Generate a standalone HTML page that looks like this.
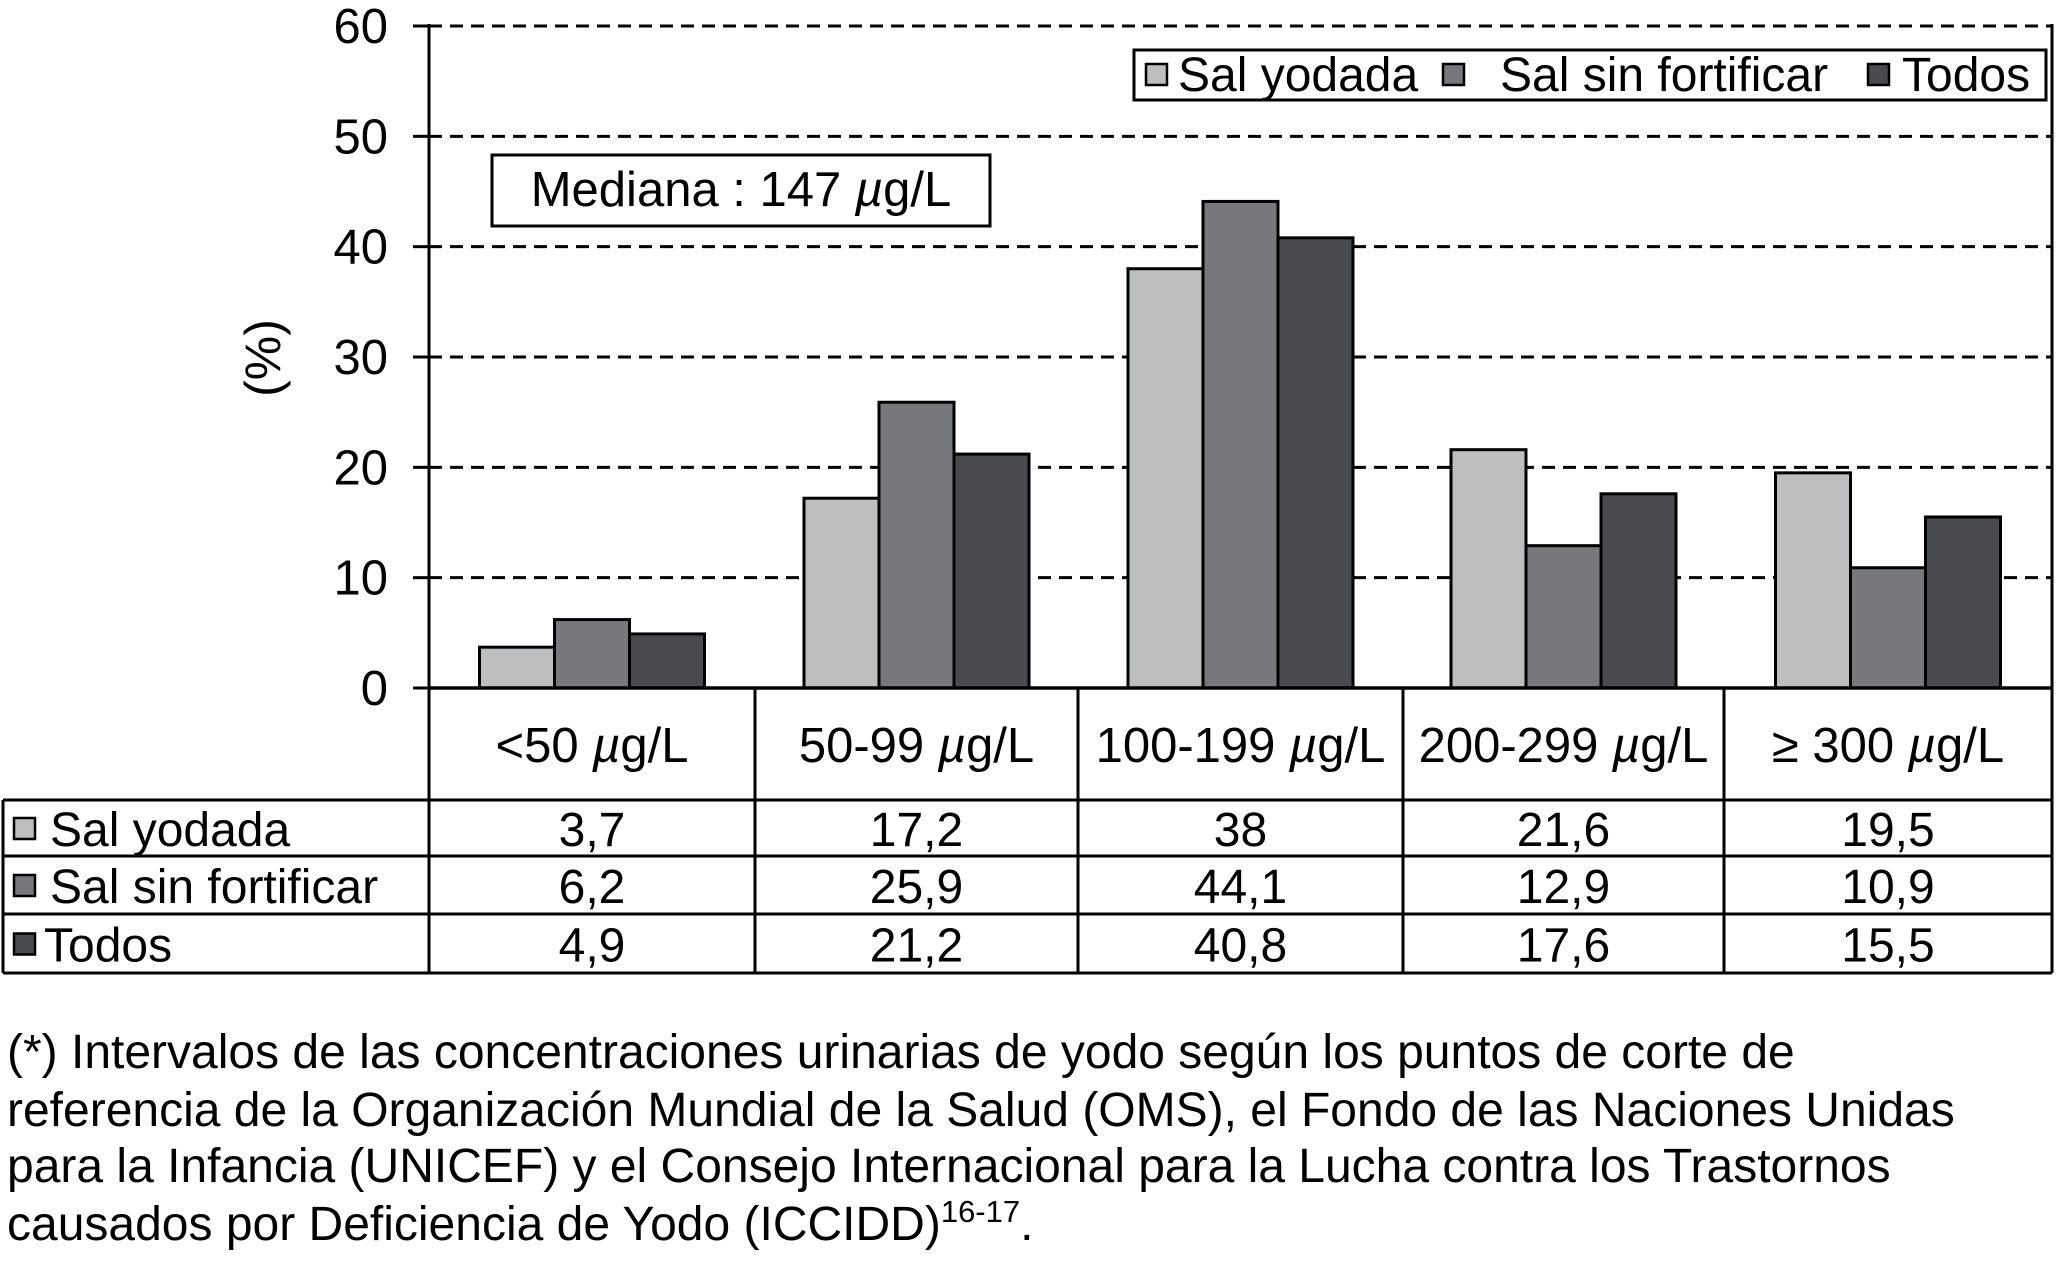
<!DOCTYPE html>
<html><head><meta charset="utf-8"><style>
html,body{margin:0;padding:0;background:#fff;}
svg{display:block;font-family:"Liberation Sans",Arial,sans-serif;}
</style></head><body>
<svg id="chart" width="2056" height="1265" viewBox="0 0 2056 1265" xmlns="http://www.w3.org/2000/svg">
<g id="grid"></g>
<g id="bars"></g>
<g id="axis"></g>
<g id="table"></g>
<text x="0" y="0" font-size="50" text-anchor="middle" transform="translate(280,358) rotate(-90)">(%)</text>
<g>
<rect x="492" y="155" width="498" height="71" fill="#fff" stroke="#000" stroke-width="3"/>
<text x="741" y="206" font-size="49" text-anchor="middle">Mediana : 147 <tspan font-style="italic">µ</tspan>g/L</text>
</g>
<g>
<rect x="1134" y="50" width="912" height="50" fill="#fff" stroke="#000" stroke-width="3"/>
<rect x="1146" y="64" width="21" height="21" fill="#bdbec0" stroke="#000" stroke-width="2.5"/>
<text x="1178" y="91" font-size="48">Sal yodada</text>
<rect x="1443" y="64" width="21" height="21" fill="#77787c" stroke="#000" stroke-width="2.5"/>
<text x="1500" y="91" font-size="48">Sal sin fortificar</text>
<rect x="1868" y="64" width="21" height="21" fill="#4a4b4e" stroke="#000" stroke-width="2.5"/>
<text x="1902" y="91" font-size="48">Todos</text>
</g>
<g font-size="48">
<text x="7" y="1068">(*) Intervalos de las concentraciones urinarias de yodo según los puntos de corte de</text>
<text x="7" y="1126">referencia de la Organización Mundial de la Salud (OMS), el Fondo de las Naciones Unidas</text>
<text x="7" y="1182">para la Infancia (UNICEF) y el Consejo Internacional para la Lucha contra los Trastornos</text>
<text x="7" y="1240">causados por Deficiencia de Yodo (ICCIDD)<tspan font-size="31" dy="-18">16-17</tspan><tspan dy="18">.</tspan></text>
</g>
</svg>
<script>
const categories = ["<50", "50-99", "100-199", "200-299", "≥ 300"];
const seriesNames = ["Sal yodada", "Sal sin fortificar", "Todos"];
const yodada = [3.7, 17.2, 38, 21.6, 19.5];
const sinFort = [6.2, 25.9, 44.1, 12.9, 10.9];
const todos = [4.9, 21.2, 40.8, 17.6, 15.5];
const yTicks = [0, 10, 20, 30, 40, 50, 60];

const NS = "http://www.w3.org/2000/svg";
const colors = ["#bdbec0", "#77787c", "#4a4b4e"];
const series = [yodada, sinFort, todos];
const x0 = 429, x1 = 2052, yBase = 688, yTop = 26;
const colEdges = [429, 755, 1078, 1403, 1724, 2052];
function yScale(v){ return yBase - (v/60)*(yBase-yTop); }
function colCenter(i){ return (colEdges[i]+colEdges[i+1])/2; }
function mk(tag, attrs, parent){ const e=document.createElementNS(NS,tag); for(const k in attrs) e.setAttribute(k,attrs[k]); parent.appendChild(e); return e; }

const grid=document.getElementById('grid'), bars=document.getElementById('bars'), axis=document.getElementById('axis'), table=document.getElementById('table');
yTicks.forEach(t=>{
  const y=yScale(t);
  if(t>0){
    const l=mk('line',{x1:x0,x2:x1,y1:y,y2:y,stroke:'#000','stroke-width':3,'stroke-dasharray':'13 8'},grid);
    
    
  }
  const tk=mk('line',{x1:413,x2:x0,y1:y,y2:y,stroke:'#000','stroke-width':3},axis);
  
  
  const tx=mk('text',{x:388,y:y+17,'font-size':49,'text-anchor':'end'},axis);
  tx.textContent=t;
  
  
});
mk('line',{x1:x0,x2:x0,y1:yTop-2,y2:yBase,stroke:'#000','stroke-width':3},axis);
mk('line',{x1:x1,x2:x1,y1:yTop-2,y2:yBase,stroke:'#000','stroke-width':3},axis);

const bw=75;
categories.forEach((c,i)=>{
  const cx=colCenter(i);
  series.forEach((s,j)=>{
    const bx=cx-1.5*bw+j*bw, y=yScale(s[i]);
    const r=mk('rect',{x:bx,y:y,width:bw,height:yBase-y,fill:colors[j],stroke:'#000','stroke-width':3},bars);
    
    
  });
});

const rowY=[688,800,856,914,973];
mk('line',{x1:x0,x2:x1,y1:688,y2:688,stroke:'#000','stroke-width':3.5},table);
for(let r=1;r<rowY.length;r++) mk('line',{x1:3,x2:x1,y1:rowY[r],y2:rowY[r],stroke:'#000','stroke-width':3},table);
colEdges.forEach(x=>mk('line',{x1:x,x2:x,y1:688,y2:973,stroke:'#000','stroke-width':3},table));
mk('line',{x1:3,x2:3,y1:800,y2:973,stroke:'#000','stroke-width':3},table);
categories.forEach((c,i)=>{
  const t=mk('text',{x:colCenter(i),y:762,'font-size':49,'text-anchor':'middle'},table);
  
  
  t.appendChild(document.createTextNode(c+' '));
  const mu=mk('tspan',{'font-style':'italic'},t); mu.textContent='µ';
  t.appendChild(document.createTextNode('g/L'));
});
series.forEach((s,j)=>{
  const ym=(rowY[j+1]+rowY[j+2])/2;
  const sw=mk('rect',{x:14,y:ym-10,width:21,height:21,fill:colors[j],stroke:'#000','stroke-width':2.5},table);
  
  
  const lb=mk('text',{x:j==2?44:50,y:ym+18,'font-size':48},table);
  lb.textContent=seriesNames[j];
  
  
  s.forEach((v,i)=>{
    const t=mk('text',{x:colCenter(i),y:ym+18,'font-size':48,'text-anchor':'middle'},table);
    t.textContent=String(v).replace('.',',');
    
    
  });
});
</script>
</body></html>
